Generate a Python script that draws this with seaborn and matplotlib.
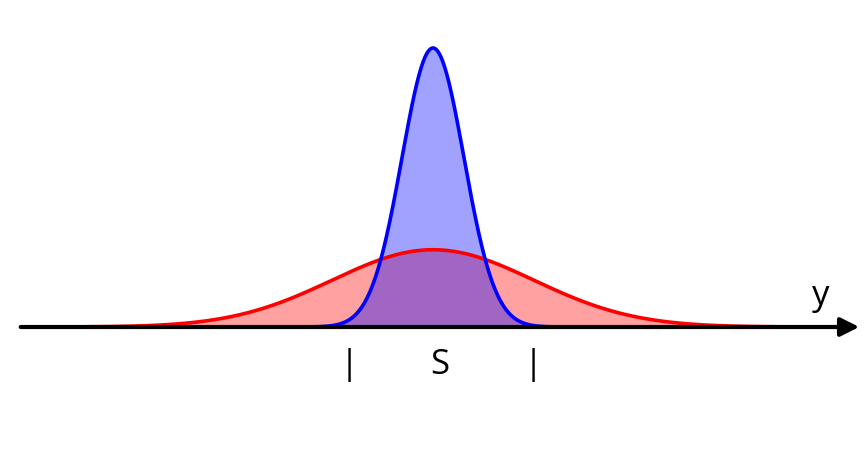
import numpy as np
import matplotlib.pyplot as plt
import seaborn as sns

# gaussian parameters (x in units of the narrow sigma)
centre = 0.0
narrow_sigma = 1.0
narrow_peak = 1.0
wide_sigma = 3.25
wide_peak = 0.277

narrow_span = [-3.95, 4.25]
wide_span = [-13.25, 12.95]

tick_text = ["|", "S", "|"]
tick_pos = [-2.71, 0.23, 3.23]


def gauss(x, peak, sigma):
    return peak * np.exp(-(x - centre) ** 2 / (2 * sigma ** 2))


sns.set_style("white")
plt.rcParams['font.family'] = ['Open Sans', 'DejaVu Sans']

fig = plt.figure(figsize=(8.64, 4.70), dpi=100)
ax = fig.add_axes([0, 0, 1, 1])

xw = np.linspace(wide_span[0], wide_span[1], 600)
xn = np.linspace(narrow_span[0], narrow_span[1], 400)
yw = gauss(xw, wide_peak, wide_sigma)
yn = gauss(xn, narrow_peak, narrow_sigma)

ax.fill_between(xw, 0, yw, color="red", alpha=0.37, linewidth=0)
ax.fill_between(xn, 0, yn, color="blue", alpha=0.37, linewidth=0)
sns.lineplot(x=xw, y=yw, color="red", linewidth=2.6, ax=ax)
sns.lineplot(x=xn, y=yn, color="blue", linewidth=2.6, ax=ax)

# horizontal axis with arrow
ax.annotate("", xy=(13.75, 0), xytext=(-13.3, 0),
            arrowprops=dict(arrowstyle="-|>", color="black", lw=3,
                            mutation_scale=28, shrinkA=0, shrinkB=0))
ax.text(12.5, 0.11, "y", fontsize=25, color="black", ha="center", va="center")

for t, p in zip(tick_text, tick_pos):
    ax.text(p, -0.135, t, fontsize=25, color="black", ha="center", va="center")

ax.set_xlim(-433 / 31, (864 - 433) / 31)
ax.set_ylim(-143 / 279, (470 - 143) / 279)
ax.axis("off")

fig.savefig("out.png", dpi=100)
